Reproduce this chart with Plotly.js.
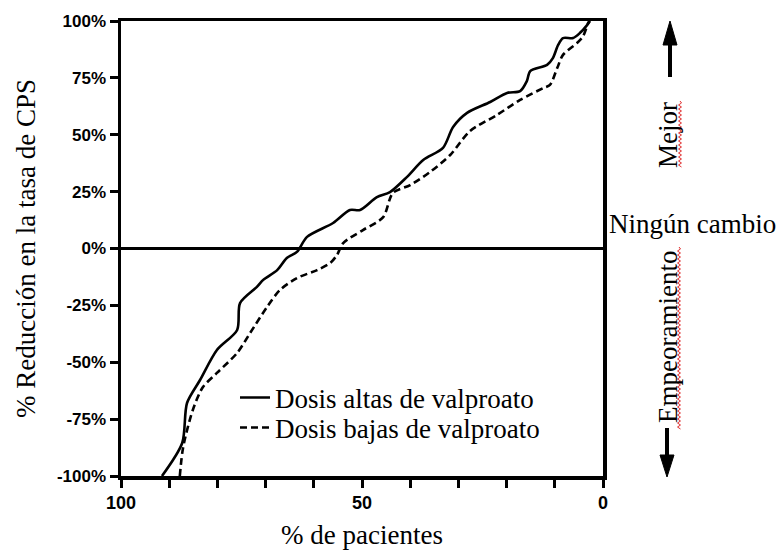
<!DOCTYPE html>
<html>
<head>
<meta charset="utf-8">
<script src="https://cdn.plot.ly/plotly-3.0.1.min.js"></script>
<style>
  html, body { margin: 0; padding: 0; background: #fff; }
  #chart { width: 781px; height: 553px; }
</style>
</head>
<body>
<div id="chart"></div>
<script>
// ---- Data ----
const highDoseX = [91.5, 87.3, 86.3, 83.6, 80.1, 75.9, 75.3, 71.8, 70.5, 67.6, 65.6, 63.5, 61.4, 56.0, 52.5, 50.4, 46.9, 44.2, 40.7, 37.3, 33.2, 31.1, 28.2, 23.4, 19.9, 17.2, 15.8, 15.1, 11.6, 10.4, 9.3, 8.3, 6.2, 4.8, 3.3, 2.7];
const highDoseY = [-100, -85.5, -67.9, -57.8, -44.6, -35.8, -24.0, -16.9, -13.8, -9.5, -4.2, -1.5, 5.1, 11.2, 16.9, 16.9, 22.6, 24.8, 31.4, 38.9, 44.2, 53.4, 59.6, 64.4, 68.4, 69.2, 73.6, 78.0, 80.7, 83.7, 89.5, 92.5, 92.5, 94.7, 98.2, 100];

const lowDoseX = [87.8, 87.1, 85.1, 83.0, 80.1, 75.9, 73.2, 69.7, 67.0, 63.5, 59.3, 56.6, 55.2, 53.9, 49.8, 45.6, 43.6, 40.0, 35.9, 31.7, 27.6, 22.0, 17.2, 12.4, 11.0, 9.5, 8.3, 5.4, 4.1, 3.1, 2.8];
const lowDoseY = [-100, -87.3, -71.0, -60.9, -54.7, -45.9, -37.1, -25.7, -18.2, -13.0, -9.5, -6.4, -2.9, 2.4, 8.1, 13.8, 24.4, 27.9, 33.6, 41.1, 51.6, 58.7, 65.3, 70.5, 71.9, 79.3, 85.1, 90.3, 93.4, 99.1, 100];

const seriesNames = ["Dosis altas de valproato", "Dosis bajas de valproato"];

const xTickVals = [100, 90, 80, 70, 60, 50, 40, 30, 20, 10, 0];
const xTickText = ["100", "", "", "", "", "50", "", "", "", "", "0"];
const yTickVals = [100, 75, 50, 25, 0, -25, -50, -75, -100];
const yTickText = ["100%", "75%", "50%", "25%", "0%", "-25%", "-50%", "-75%", "-100%"];

const xTitle = "% de pacientes";
const yTitle = "% Reducción en la tasa de CPS";
const sideLabels = { better: "Mejor", none: "Ningún cambio", worse: "Empeoramiento" };

// ---- Layout helpers ----
const W = 781, H = 553;
const M = { l: 121, r: 178, t: 21, b: 77 };
const PW = W - M.l - M.r, PH = H - M.t - M.b;
const px = x => (x - M.l) / PW;          // pixel -> paper x
const py = y => (H - M.b - y) / PH;      // pixel -> paper y

function squiggle(xPix, y0, y1) {
  let d = "M" + px(xPix) + "," + py(y0);
  let s = 1;
  for (let y = y0 + 2; y <= y1; y += 2) {
    d += " L" + px(xPix + 1.5 * s) + "," + py(y);
    s = -s;
  }
  return d;
}

const serif = "Liberation Serif";
const sans = "Liberation Sans";

const traces = [
  {
    x: highDoseX, y: highDoseY, name: seriesNames[0], type: "scatter", mode: "lines",
    legend: "legend",
    line: { color: "#000", width: 2.6, shape: "spline", smoothing: 0.8 }
  },
  {
    x: lowDoseX, y: lowDoseY, name: seriesNames[1], type: "scatter", mode: "lines",
    legend: "legend2",
    line: { color: "#000", width: 2.6, dash: "7px,4px", shape: "spline", smoothing: 0.8 }
  }
];

const legendBase = {
  xanchor: "left", yanchor: "middle",
  bgcolor: "rgba(0,0,0,0)",
  font: { family: serif, size: 27, color: "#000" }
};

const layout = {
  width: W, height: H,
  margin: M,
  paper_bgcolor: "#fff", plot_bgcolor: "#fff",
  showlegend: true,
  legend: Object.assign({}, legendBase, { x: px(235), y: py(398) }),
  legend2: Object.assign({}, legendBase, { x: px(235), y: py(428) }),
  xaxis: {
    range: [100, 0],
    tickvals: xTickVals, ticktext: xTickText,
    ticks: "outside", ticklen: 8, tickwidth: 3, tickcolor: "#000",
    showline: true, linewidth: 3.5, linecolor: "#000", mirror: true,
    showgrid: false, zeroline: false,
    tickfont: { family: sans, size: 18, color: "#000", weight: "bold" },
    title: { text: xTitle, font: { family: serif, size: 27, color: "#000" }, standoff: 14 }
  },
  yaxis: {
    range: [-100, 100],
    tickvals: yTickVals, ticktext: yTickText,
    ticks: "outside", ticklen: 8, tickwidth: 3, tickcolor: "#000",
    showline: true, linewidth: 3.5, linecolor: "#000", mirror: true,
    showgrid: false, zeroline: true, zerolinewidth: 3, zerolinecolor: "#000",
    tickfont: { family: sans, size: 17, color: "#000", weight: "bold" },
    title: { text: yTitle, font: { family: serif, size: 27, color: "#000" }, standoff: 14 }
  },
  annotations: [
    { text: sideLabels.better, xref: "paper", yref: "paper", x: px(668), y: py(135), textangle: -90,
      showarrow: false, font: { family: serif, size: 27, color: "#000" }, xanchor: "center", yanchor: "middle" },
    { text: sideLabels.none, xref: "paper", yref: "paper", x: px(692), y: py(224),
      showarrow: false, font: { family: serif, size: 27, color: "#000" }, xanchor: "center", yanchor: "middle" },
    { text: sideLabels.worse, xref: "paper", yref: "paper", x: px(668), y: py(337), textangle: -90,
      showarrow: false, font: { family: serif, size: 27, color: "#000" }, xanchor: "center", yanchor: "middle" }
  ],
  shapes: [
    // up arrow
    { type: "line", xref: "paper", yref: "paper", x0: px(670), x1: px(670), y0: py(77), y1: py(40),
      line: { color: "#000", width: 4 } },
    { type: "path", xref: "paper", yref: "paper",
      path: "M" + px(663) + "," + py(45) + " L" + px(670) + "," + py(21) + " L" + px(677) + "," + py(45) + " Z",
      fillcolor: "#000", line: { color: "#000", width: 1 } },
    // down arrow
    { type: "line", xref: "paper", yref: "paper", x0: px(667), x1: px(667), y0: py(428), y1: py(460),
      line: { color: "#000", width: 4 } },
    { type: "path", xref: "paper", yref: "paper",
      path: "M" + px(660) + "," + py(455) + " L" + px(667) + "," + py(477) + " L" + px(674) + "," + py(455) + " Z",
      fillcolor: "#000", line: { color: "#000", width: 1 } },
    // spell-check squiggles
    { type: "path", xref: "paper", yref: "paper", path: squiggle(680, 101, 168),
      line: { color: "#e03030", width: 1 } },
    { type: "path", xref: "paper", yref: "paper", path: squiggle(679, 247, 430),
      line: { color: "#e03030", width: 1 } }
  ]
};

Plotly.newPlot("chart", traces, layout, { staticPlot: true, displayModeBar: false });
</script>
</body>
</html>
